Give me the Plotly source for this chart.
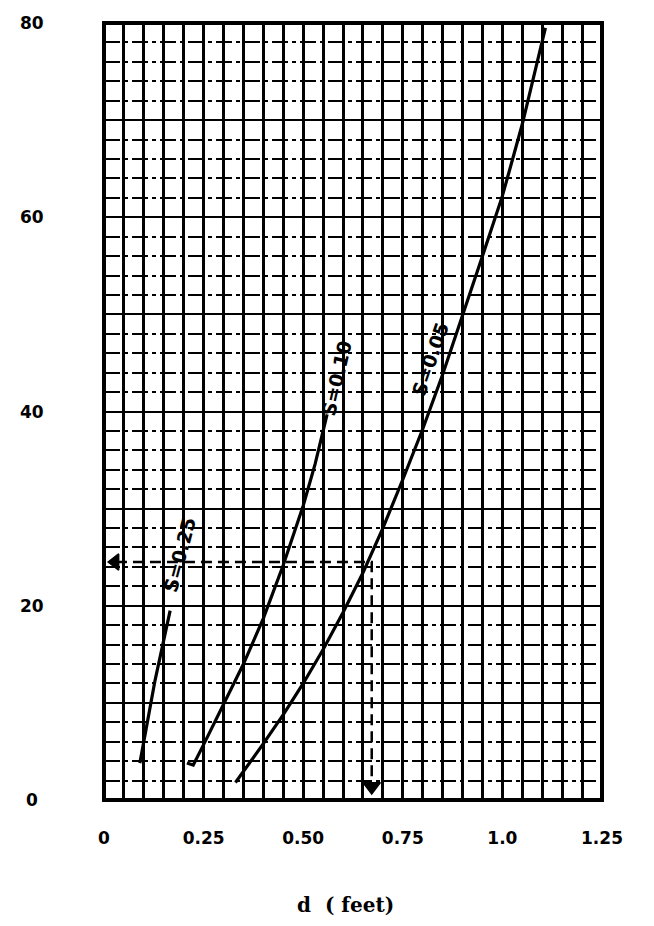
import plotly.graph_objects as go

# Discharge curves q against depth d for three slopes
d_s025 = [0.090, 0.128, 0.166]
q_s025 = [3.8, 12.3, 19.5]

d_s010 = [0.208, 0.224, 0.25, 0.30, 0.35, 0.40, 0.45, 0.50, 0.53, 0.56]
q_s010 = [3.8, 3.6, 5.7, 9.8, 14.0, 18.7, 24.2, 30.3, 34.6, 39.7]

d_s005 = [0.33, 0.40, 0.45, 0.50, 0.55, 0.60, 0.65, 0.70, 0.75, 0.80,
          0.85, 0.90, 0.95, 1.00, 1.05, 1.108]
q_s005 = [1.8, 5.8, 8.8, 12.0, 15.5, 19.3, 23.4, 28.0, 33.0, 38.2,
          43.8, 49.8, 56.0, 62.2, 69.6, 79.5]

# Worked example: read q = 24.5 across to the S=0.05 curve, then down to d
q_example = 24.5
d_example = 0.672

# Curve labels: text, position (d, q), rotation
curve_labels = ["S=0.25", "S=0.10", "S=0.05"]
label_d = [0.190, 0.585, 0.819]
label_q = [25.2, 43.4, 45.4]
label_angle = [-75, -77, -71]

x_tickvals = [0, 0.25, 0.5, 0.75, 1.0, 1.25]
x_ticktext = ["0", "0.25", "0.50", "0.75", "1.0", "1.25"]
y_tickvals = [0, 20, 40, 60, 80]
y_ticktext = ["0", "20", "40", "60", "80"]

tick_font = dict(family="DejaVu Sans", size=17, color="black", weight="bold")

fig = go.Figure()

for d, q in [(d_s025, q_s025), (d_s010, q_s010), (d_s005, q_s005)]:
    fig.add_trace(go.Scatter(x=d, y=q, mode="lines",
                             line=dict(color="black", width=3.2),
                             showlegend=False, hoverinfo="skip"))

# dashed reading path
fig.add_trace(go.Scatter(
    x=[0.03, d_example, d_example], y=[q_example, q_example, 2.0],
    mode="lines", line=dict(color="black", width=2.5, dash="11px,6px"),
    showlegend=False, hoverinfo="skip"))
fig.add_trace(go.Scatter(
    x=[0.028, d_example], y=[q_example, 1.4], mode="markers", opacity=1,
    marker=dict(symbol=["triangle-left", "triangle-down"], size=[14, 15],
                color="black", opacity=1, line=dict(color="black", width=1.5)),
    showlegend=False, hoverinfo="skip"))

for txt, x, y, a in zip(curve_labels, label_d, label_q, label_angle):
    fig.add_annotation(x=x, y=y, text=txt, textangle=a, showarrow=False,
                       font=dict(family="DejaVu Sans", size=19, color="black",
                                 weight="bold"))

# y tick labels centred in the left margin
for v, t in zip(y_tickvals, y_ticktext):
    fig.add_annotation(x=-0.145, xref="paper", y=v, yref="y", text=t,
                       showarrow=False, xanchor="center", yanchor="middle",
                       font=tick_font)

fig.add_annotation(x=0.484, xref="paper", y=-0.135, yref="paper",
                   text="<b>d  ( feet)</b>", showarrow=False,
                   xanchor="center", yanchor="middle",
                   font=dict(family="DejaVu Serif", size=20, color="black"))

fig.update_xaxes(range=[0, 1.25], tickvals=x_tickvals, ticktext=x_ticktext,
                 tickfont=tick_font, ticks="", ticklabelstandoff=26,
                 showgrid=True, gridcolor="black", gridwidth=2.5,
                 minor=dict(tickvals=[round(0.05 * i, 2) for i in range(26)
                                      if i % 5 != 0],
                            showgrid=True, gridcolor="black", gridwidth=2.5),
                 zeroline=False, showline=False, fixedrange=True)

fig.update_yaxes(range=[0, 80], tickvals=[0, 10, 20, 30, 40, 50, 60, 70, 80],
                 showticklabels=False, ticks="",
                 showgrid=True, gridcolor="black", gridwidth=2,
                 minor=dict(tickvals=[v for v in range(0, 81, 2) if v % 10 != 0],
                            showgrid=True, gridcolor="black", gridwidth=1.8,
                            griddash="16px,4px,4px,4px"),
                 zeroline=False, showline=False, fixedrange=True)

# heavy frame around the chart
fig.add_shape(type="rect", xref="paper", yref="paper", x0=0, y0=0, x1=1, y1=1,
              line=dict(color="black", width=4), layer="above")

fig.update_layout(width=654, height=926,
                  margin=dict(l=104, r=52, t=23, b=126),
                  plot_bgcolor="white", paper_bgcolor="white")

fig.write_html("out.html")
